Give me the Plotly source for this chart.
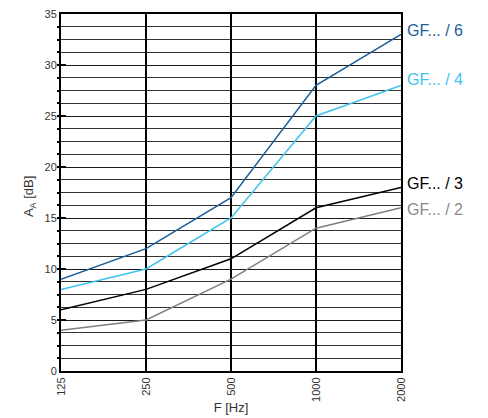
import plotly.graph_objects as go
import math

freqs = [125, 250, 500, 1000, 2000]
freq_labels = ["125", "250", "500", "1000", "2000"]
gf6 = [9, 12, 17, 28, 33]
gf4 = [8, 10, 15, 25, 28]
gf3 = [6, 8, 11, 16, 18]
gf2 = [4, 5, 9, 14, 16]
series_names = ["GF... / 6", "GF... / 4", "GF... / 3", "GF... / 2"]
series = [gf6, gf4, gf3, gf2]
colors = ["#1c5e98", "#3fc3ee", "#000000", "#7f7f7f"]
label_colors = ["#1c5e98", "#3fc3ee", "#000000", "#8a8a8a"]
label_y = [33.4, 28.6, 18.4, 15.8]
y_ticks = [0, 5, 10, 15, 20, 25, 30, 35]

fig = go.Figure()
for name, vals, c in zip(series_names, series, colors):
    fig.add_trace(go.Scatter(x=freqs, y=vals, mode="lines", name=name,
                             line=dict(color=c, width=1.5), showlegend=False))

for name, ly, c in zip(series_names, label_y, label_colors):
    fig.add_annotation(x=1.012, xref="paper", y=ly, yref="y", text=name,
                       showarrow=False, xanchor="left", yanchor="middle",
                       font=dict(size=16, color=c, family="Liberation Sans"))

fig.add_annotation(x=-0.094, xref="paper", y=0.49, yref="paper",
                   text="A<sub>A</sub> [dB]", textangle=-90, showarrow=False,
                   xanchor="center", yanchor="middle",
                   font=dict(size=13, color="#333333", family="Liberation Sans"))

fig.update_layout(
    width=488, height=418,
    margin=dict(l=53, r=95, t=6, b=55, autoexpand=False),
    paper_bgcolor="white", plot_bgcolor="white",
    font=dict(family="Liberation Sans", color="#333333", size=11),
    xaxis=dict(type="log", range=[math.log10(125), math.log10(2000)],
               tickmode="array", tickvals=freqs, ticktext=freq_labels,
               tickangle=-90, showgrid=True, gridcolor="black", gridwidth=2,
               showline=True, linecolor="black", linewidth=2, mirror=True,
               ticks="", tickfont=dict(size=11), automargin=False,
               ticklabeloverflow="allow",
               title=dict(text="F [Hz]", font=dict(size=13), standoff=2),
               zeroline=False),
    yaxis=dict(range=[0, 35], tickmode="array", tickvals=y_ticks,
               showgrid=True, gridcolor="#1a1a1a", gridwidth=1,
               showline=True, linecolor="black", linewidth=2, mirror=True,
               ticks="inside", ticklen=5, tickcolor="black", tickwidth=2,
               minor=dict(dtick=1.25, showgrid=True, gridcolor="#333333",
                          gridwidth=1, ticks="outside", ticklen=2,
                          tickcolor="black", tickwidth=2),
               ticklabeloverflow="allow",
               tickfont=dict(size=11), zeroline=False, automargin=False),
)

fig.write_html("out.html")
